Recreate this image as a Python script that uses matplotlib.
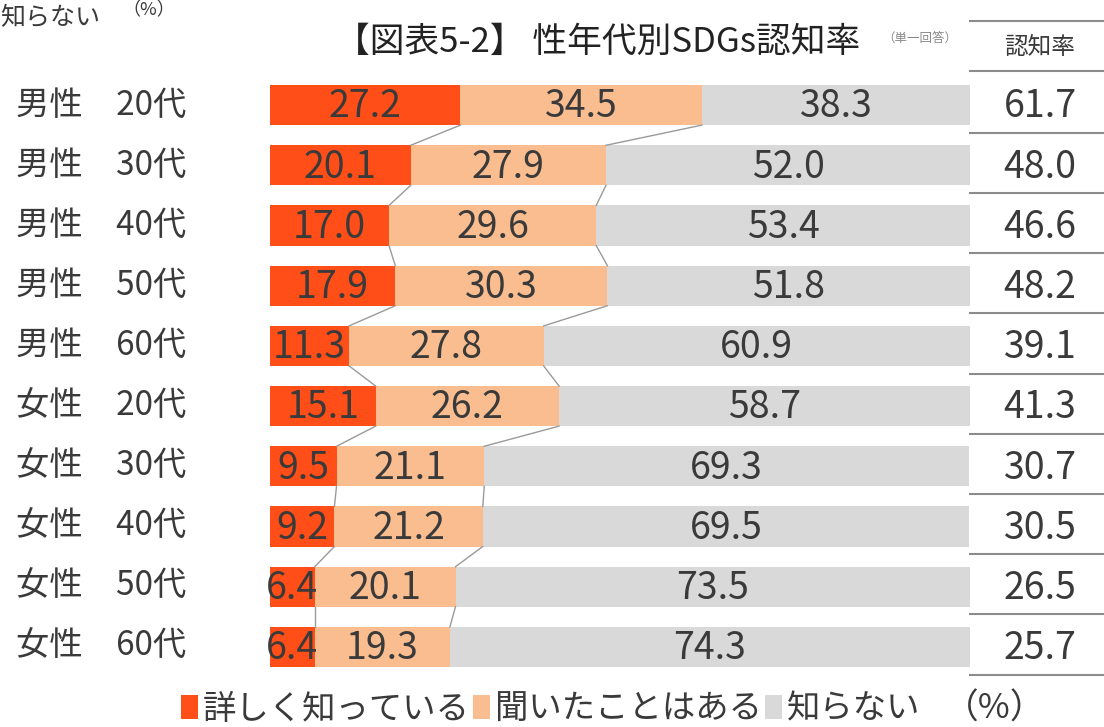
import matplotlib
matplotlib.use("Agg")
import matplotlib.pyplot as plt
from matplotlib.patches import Patch

plt.rcParams['font.family'] = ['Noto Sans CJK JP', 'DejaVu Sans']

categories = ["男性　20代", "男性　30代", "男性　40代", "男性　50代", "男性　60代",
              "女性　20代", "女性　30代", "女性　40代", "女性　50代", "女性　60代"]
detailed = [27.2, 20.1, 17.0, 17.9, 11.3, 15.1, 9.5, 9.2, 6.4, 6.4]
heard = [34.5, 27.9, 29.6, 30.3, 27.8, 26.2, 21.1, 21.2, 20.1, 19.3]
unknown = [38.3, 52.0, 53.4, 51.8, 60.9, 58.7, 69.3, 69.5, 73.5, 74.3]
awareness = [61.7, 48.0, 46.6, 48.2, 39.1, 41.3, 30.7, 30.5, 26.5, 25.7]
series_names = ["詳しく知っている", "聞いたことはある", "知らない"]
colors = ["#FF4E17", "#F9BD8F", "#D9D9D9"]
title = "【図表5-2】 性年代別SDGs認知率"
subtitle = "（単一回答）"
table_header = "認知率"

W, H = 1104, 727
fig = plt.figure(figsize=(W / 100, H / 100), dpi=100)
ax = fig.add_axes([270 / W, 1 - 677 / H, 700 / W, 602 / H])
ax.set_xlim(0, 100)
ax.set_ylim(len(categories) - 0.5, -0.5)
ax.axis('off')

txt = "#3a3a3a"
bh = 0.665
ys = list(range(len(categories)))
lefts = [0] * len(categories)
for vals, col in zip([detailed, heard, unknown], colors):
    ax.barh(ys, vals, left=lefts, height=bh, color=col, edgecolor='none')
    for y, l, v in zip(ys, lefts, vals):
        ax.text(l + v / 2, y + 0.03, f"{v:.1f}", ha='center', va='center',
                fontsize=27, color=txt)
    lefts = [a + b for a, b in zip(lefts, vals)]

# connector lines
cum1 = detailed
cum2 = [a + b for a, b in zip(detailed, heard)]
for cum in (cum1, cum2):
    for i in range(len(categories) - 1):
        ax.plot([cum[i], cum[i + 1]], [i + bh / 2, i + 1 - bh / 2],
                color="#9a9a9a", lw=1.0, clip_on=False)

# row labels
for y, c in zip(ys, categories):
    ax.text(-36.3, y, c, ha='left', va='center', fontsize=24, color=txt,
            clip_on=False)

# right table
xr0, xr1 = 100.0, 100 + 134 / 7
xc = 100 + 70 / 7
for y, a in zip(ys, awareness):
    ax.text(xc, y + 0.03, f"{a:.1f}", ha='center', va='center', fontsize=27,
            color=txt, clip_on=False)
    ax.plot([xr0, xr1], [y + 0.46, y + 0.46], color="#8c8c8c", lw=1.5,
            clip_on=False)
ax.plot([xr0, xr1], [-0.5 - 54 / 60.2, -0.5 - 54 / 60.2], color="#8c8c8c", lw=1.5, clip_on=False)
ax.plot([xr0, xr1], [-0.5 - 0.07, -0.5 - 0.07], color="#8c8c8c", lw=1.5, clip_on=False)
ax.text(xc, -0.5 - 27 / 60.2, table_header, ha='center', va='center', fontsize=17,
        color=txt, clip_on=False)

# title
fig.text(598 / W, 1 - 42 / H, title, ha='center', va='center', fontsize=25,
         color="#222222")
fig.text(920 / W, 1 - 38 / H, subtitle, ha='center', va='center', fontsize=9,
         color="#888888")

# top-left remnants
fig.text(0 / W, 1 - 18 / H, "知らない", ha='left', va='center', fontsize=18, color=txt)
fig.text(122 / W, 1 - 10 / H, "（%）", ha='left', va='center', fontsize=13, color=txt)

# legend
handles = [Patch(facecolor=c, edgecolor='none') for c in colors]
leg = fig.legend(handles, series_names, loc='center left',
                 bbox_to_anchor=(168 / W, 1 - 709 / H), ncol=3, frameon=False,
                 fontsize=24, handlelength=0.5, handleheight=0.7,
                 handletextpad=0.15, columnspacing=0.1, borderaxespad=0,
                 labelcolor=txt)
fig.text(995 / W, 1 - 709 / H, "（%）", ha='center', va='center', fontsize=25, color=txt)

fig.savefig("out.png", dpi=100)
